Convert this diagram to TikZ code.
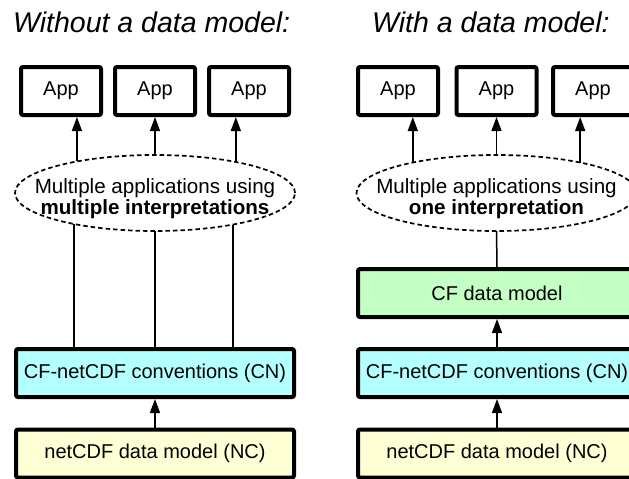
\documentclass[tikz,border=0pt]{standalone}
\usepackage{fontspec}
\setmainfont{Liberation Sans}
\usetikzlibrary{shapes.geometric,arrows.meta}
\definecolor{cnfill}{RGB}{180,255,255}
\definecolor{ncfill}{RGB}{255,255,214}
\definecolor{cffill}{RGB}{196,255,196}
\begin{document}
\begin{tikzpicture}[x=1pt,y=-1pt,
  box/.style={draw,line width=4pt,rounded corners=2pt,inner sep=0pt,
    font=\fontsize{20}{23}\selectfont},
  appbox/.style={box,minimum width=80pt,minimum height=48pt},
  layer/.style={box,minimum width=278pt,minimum height=48pt},
  cloud/.style={ellipse,draw,dash pattern=on 4.5pt off 3pt,line width=1.7pt,
    minimum width=280pt,minimum height=76pt,inner sep=0pt,outer sep=0pt},
  cloudtext/.style={align=center,font=\fontsize{20.6}{21}\selectfont,inner sep=0pt},
  title/.style={font=\fontsize{28.5}{30}\selectfont\itshape,inner sep=0pt,anchor=base west},
  conn/.style={line width=1.5pt},
  arr/.style={conn,-{Triangle[length=14pt,width=10pt]}}]
\useasboundingbox (0,0) rectangle (629,479);
\clip (0,0) rectangle (629,479);
% ---------- left panel ----------
\node[title] (t1) at (13,32) {Without a data model:};
\node[appbox] (a1) at (61,91) {App};
\node[appbox] (a2) at (155,91) {App};
\node[appbox] (a3) at (249,91) {App};
\node[cloud] (e1) at (155,193) {};
\node[cloudtext] (e1t) at (155,199) {Multiple applications using\\\textbf{multiple interpretations}};
\node[layer,fill=cnfill] (cn1) at (155,373) {CF-netCDF conventions (CN)};
\node[layer,fill=ncfill] (nc1) at (155,453.5) {netCDF data model (NC)};
\draw[arr] (e1.158.3) -- (e1.158.3 |- a1.south);
\draw[arr] (e1.north) -- (a2.south);
\draw[arr] (e1.21.7) -- (e1.21.7 |- a3.south);
\draw[conn] (e1.201.7) -- (e1.201.7 |- cn1.north);
\draw[conn] (e1.south) -- (cn1.north);
\draw[conn] (e1.338.3) -- (e1.338.3 |- cn1.north);
\draw[arr] (nc1.north) -- (cn1.south);
% ---------- right panel ----------
\node[title] (t2) at (372,32) {With a data model:};
\node[appbox] (b1) at (398,91) {App};
\node[appbox] (b2) at (496.5,91) {App};
\node[appbox] (b3) at (593,91) {App};
\node[cloud] (e2) at (496.5,193) {};
\node[cloudtext] (e2t) at (496.5,199) {Multiple applications using\\\textbf{one interpretation}};
\node[layer,fill=cffill] (cf) at (497,293) {CF data model};
\node[layer,fill=cnfill] (cn2) at (497,373) {CF-netCDF conventions (CN)};
\node[layer,fill=ncfill] (nc2) at (497,453.5) {netCDF data model (NC)};
\draw[arr] (e2.160.1) -- (e2.160.1 |- b1.south);
\draw[arr] (e2.north) -- (b2.south);
\draw[arr] (e2.20.6) -- (e2.20.6 |- b3.south);
\draw[conn] (e2.south) -- (cf.north);
\draw[arr] (cn2.north) -- (cf.south);
\draw[arr] (nc2.north) -- (cn2.south);
\end{tikzpicture}
\end{document}
